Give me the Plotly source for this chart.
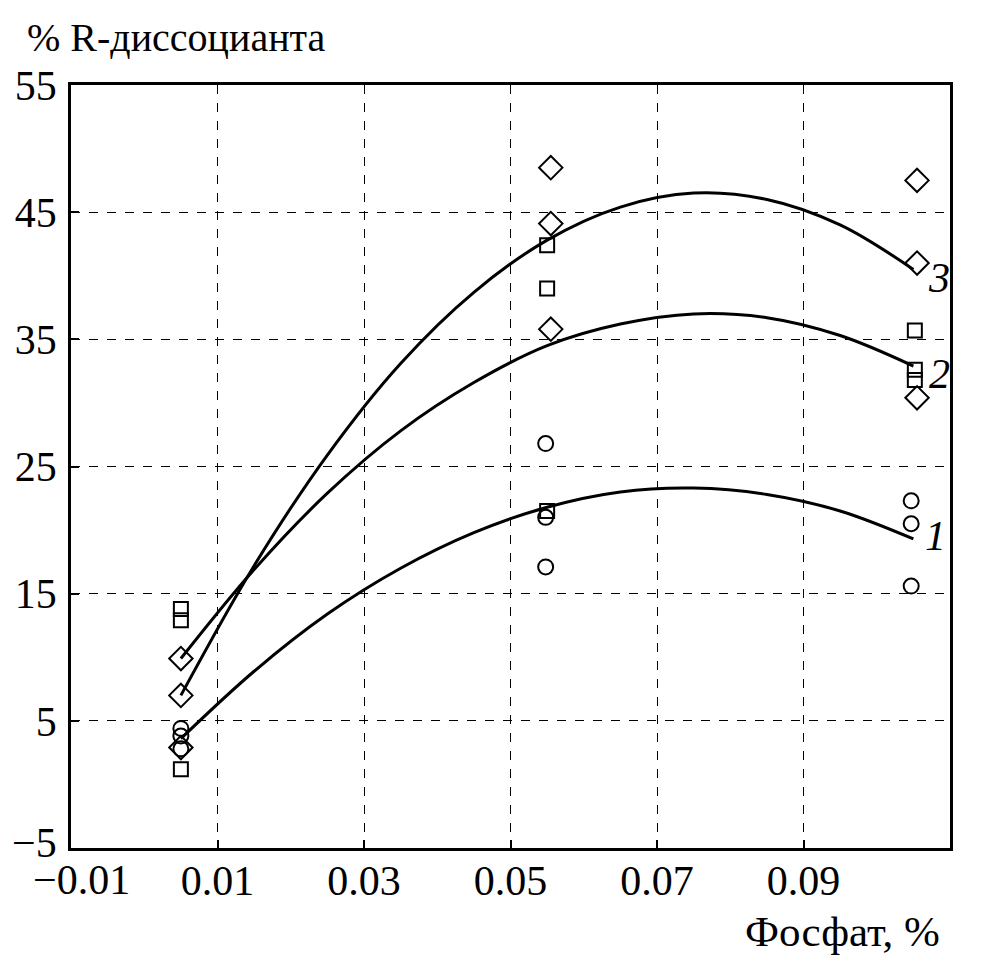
import plotly.graph_objects as go

# Measured points (x = phosphate %, y = % R-dissociant)
circle_x = [0.005, 0.005, 0.005, 0.0548, 0.0548, 0.0548, 0.1047, 0.1047, 0.1047]
circle_y = [4.4, 3.8, 2.8, 26.8, 21.0, 17.1, 22.3, 20.5, 15.6]

square_x = [0.005, 0.005, 0.005, 0.055, 0.055, 0.055, 0.1052, 0.1052, 0.1052]
square_y = [13.8, 12.9, 1.2, 42.4, 39.0, 21.5, 35.7, 32.6, 31.8]

diamond_x = [0.005, 0.005, 0.005, 0.0555, 0.0555, 0.0555, 0.1055, 0.1055, 0.1055]
diamond_y = [9.9, 7.0, 2.9, 48.5, 44.1, 35.8, 47.5, 41.0, 30.4]

# Fitted curves, values
curve_x = [0.005, 0.015, 0.025, 0.035, 0.045, 0.055, 0.065, 0.075, 0.085, 0.095, 0.105]
curve1_y = [3.6, 8.9, 13.4, 17.0, 19.8, 21.8, 23.0, 23.3, 22.8, 21.5, 19.3]
curve2_y = [9.9, 16.9, 22.9, 27.8, 31.6, 34.5, 36.2, 37.0, 36.7, 35.3, 32.9]
curve3_y = [7.0, 17.2, 25.9, 33.1, 38.7, 42.8, 45.4, 46.5, 46.0, 44.0, 40.5]

curve_labels = ["1", "2", "3"]
label_x = [0.1080, 0.1085, 0.1085]
label_y = [19.5, 32.3, 39.8]

x_ticks = [-0.01, 0.01, 0.03, 0.05, 0.07, 0.09, 0.11]
x_ticktext = ["", "0.01", "0.03", "0.05", "0.07", "0.09", "0.11"]
y_ticks = [-5, 5, 15, 25, 35, 45, 55]
y_ticktext = ["", "5", "15", "25", "35", "45", "55"]
corner_x_label = "\u22120.01"
corner_y_label = "\u22125"

FONT = "Liberation Serif, Times New Roman, serif"

fig = go.Figure()

for cy in [curve1_y, curve2_y, curve3_y]:
    fig.add_trace(go.Scatter(x=curve_x, y=cy, mode="lines",
                             line=dict(color="black", width=3, shape="spline", smoothing=1.0),
                             showlegend=False, hoverinfo="skip"))

fig.add_trace(go.Scatter(x=circle_x, y=circle_y, mode="markers",
                         marker=dict(symbol="circle-open", size=15, color="black",
                                     line=dict(width=2, color="black")),
                         showlegend=False))
fig.add_trace(go.Scatter(x=square_x, y=square_y, mode="markers",
                         marker=dict(symbol="square-open", size=14, color="black",
                                     line=dict(width=2, color="black")),
                         showlegend=False))
fig.add_trace(go.Scatter(x=diamond_x, y=diamond_y, mode="markers",
                         marker=dict(symbol="diamond-open", size=18, color="black",
                                     line=dict(width=2, color="black")),
                         showlegend=False))

for t, lx, ly in zip(curve_labels, label_x, label_y):
    fig.add_annotation(x=lx, y=ly, text=f"<i>{t}</i>", showarrow=False,
                       font=dict(family=FONT, size=42, color="black"),
                       xanchor="center", yanchor="middle")

# corner tick labels placed as in the reference (−0.01 sits right of its tick, −5 slightly raised)
fig.add_annotation(xref="x", yref="paper", x=x_ticks[0], y=-0.042,
                   text=corner_x_label, showarrow=False, xanchor="center", yanchor="middle",
                   xshift=10, font=dict(family=FONT, size=42, color="black"))
fig.add_annotation(xref="paper", yref="y", x=0, y=y_ticks[0],
                   text=corner_y_label, showarrow=False, xanchor="right", yanchor="middle",
                   xshift=-12, yshift=5, font=dict(family=FONT, size=42, color="black"))

fig.add_annotation(xref="paper", yref="paper", x=-0.0523, y=1.0616,
                   text="% R-диссоцианта", showarrow=False,
                   xanchor="left", yanchor="middle",
                   font=dict(family=FONT, size=40, color="black"))
fig.add_annotation(xref="paper", yref="paper", x=0.878, y=-0.1088,
                   text="Фосфат, %", showarrow=False,
                   xanchor="center", yanchor="middle",
                   font=dict(family=FONT, size=43, color="black"))

axis_common = dict(showline=True, mirror=True, linecolor="black", linewidth=2.5,
                   showgrid=True, gridcolor="black", gridwidth=1, griddash="dash",
                   zeroline=False, ticks="inside", ticklen=8, tickcolor="black",
                   tickwidth=2, automargin=False,
                   tickfont=dict(family=FONT, size=42, color="black"))

fig.update_xaxes(range=[-0.01, 0.11], tickvals=x_ticks, ticktext=x_ticktext,
                 ticklabelstandoff=-6, **axis_common)
fig.update_yaxes(range=[-5, 55], tickvals=y_ticks, ticktext=y_ticktext,
                 ticklabelstandoff=3, **axis_common)

# page body adds an 8px offset; figure is sized so the plot lands where the reference has it
fig.update_layout(width=974, height=953,
                  margin=dict(l=63, r=32, t=77, b=113),
                  paper_bgcolor="white", plot_bgcolor="white",
                  showlegend=False)

fig.write_html("out.html")
